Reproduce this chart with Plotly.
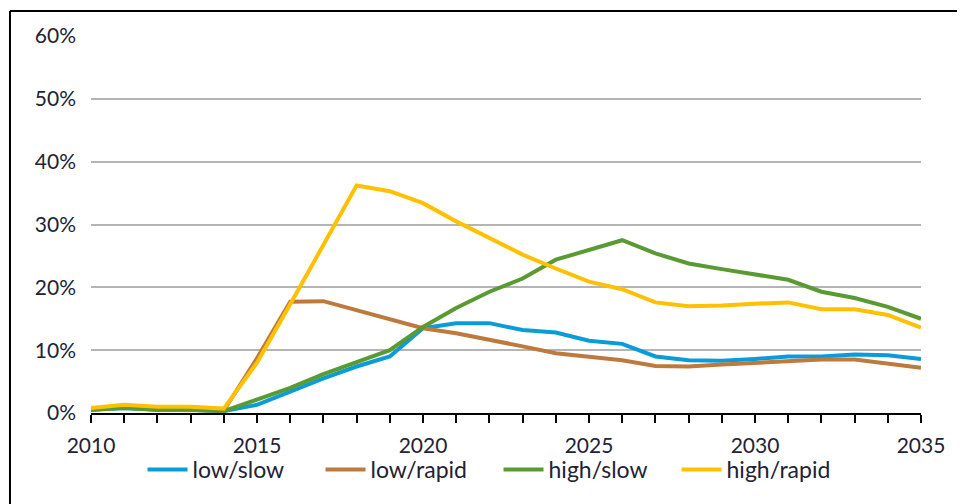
import plotly.graph_objects as go

# ==================================================
# DATA
# ==================================================
years = list(range(2010, 2036))

low_slow = [0.5, 0.8, 0.5, 0.5, 0.3,
            1.3, 3.4, 5.5, 7.4, 9.0,
            13.5, 14.3, 14.3, 13.2, 12.8,
            11.5, 11.0, 9.0, 8.4, 8.3,
            8.6, 9.0, 9.0, 9.3, 9.2,
            8.6]
low_rapid = [0.5, 0.9, 0.5, 0.4, 0.4,
             8.7, 17.7, 17.8, 16.4, 14.9,
             13.5, 12.7, 11.7, 10.6, 9.5,
             8.9, 8.4, 7.5, 7.4, 7.7,
             8.0, 8.2, 8.5, 8.5, 7.9,
             7.2]
high_slow = [0.5, 0.8, 0.5, 0.5, 0.3,
             2.2, 4.0, 6.2, 8.1, 10.0,
             13.7, 16.7, 19.3, 21.4, 24.4,
             26.0, 27.5, 25.4, 23.8, 22.9,
             22.1, 21.2, 19.3, 18.3, 16.9,
             15.0]
high_rapid = [0.8, 1.3, 1.0, 1.0, 0.7,
              8.0, 17.3, 26.6, 36.2, 35.3,
              33.4, 30.5, 27.8, 25.2, 23.0,
              20.9, 19.7, 17.6, 17.0, 17.1,
              17.4, 17.6, 16.5, 16.5, 15.6,
              13.6]

series = [
    ("low/slow", low_slow, "#0A9BD9"),
    ("low/rapid", low_rapid, "#BE7A3C"),
    ("high/slow", high_slow, "#5A9A32"),
    ("high/rapid", high_rapid, "#FFC000"),
]

FONT = "Lato, 'Open Sans', Arial, sans-serif"
TEXT_COLOR = "#222236"

# ==================================================
# FIGURE
# ==================================================
fig = go.Figure()

for name, vals, color in series:
    fig.add_trace(go.Scatter(
        x=years,
        y=vals,
        mode='lines',
        name=name,
        line=dict(width=4, color=color),
    ))

# -------------------
# Outer frame (left + top)
# -------------------
fig.add_shape(type='line', xref='paper', yref='paper',
              x0=-0.0976, x1=-0.0976, y0=-0.4, y1=1.066,
              line=dict(color='black', width=2))
fig.add_shape(type='line', xref='paper', yref='paper',
              x0=-0.0976, x1=1.1, y0=1.066, y1=1.066,
              line=dict(color='black', width=2))

# -------------------
# Layout
# (page body adds an 8px offset, so the figure is sized/margined to suit)
# -------------------
fig.update_layout(
    width=957,
    height=496,
    margin=dict(l=83, r=44, t=28, b=91),
    paper_bgcolor='white',
    plot_bgcolor='white',
    font=dict(family=FONT, size=21, color=TEXT_COLOR),
    showlegend=True,
    legend=dict(
        orientation='h',
        x=0.491, xanchor='center',
        y=-0.150, yanchor='middle',
        font=dict(family=FONT, size=23, color=TEXT_COLOR),
        itemwidth=40,
        entrywidth=123,
        entrywidthmode='pixels',
        tracegroupgap=0,
        bgcolor='rgba(0,0,0,0)',
    ),
    xaxis=dict(
        range=[2010, 2035],
        tick0=2010,
        dtick=5,
        showgrid=False,
        zeroline=False,
        showline=True,
        linecolor='black',
        linewidth=2,
        ticks='outside',
        ticklen=8,
        tickwidth=2,
        tickcolor='black',
        ticklabelstandoff=5,
        minor=dict(dtick=1, ticks='outside', ticklen=8, tickwidth=2,
                   tickcolor='black', showgrid=False),
        tickfont=dict(family=FONT, size=21, color=TEXT_COLOR),
    ),
    yaxis=dict(
        range=[0, 60],
        dtick=10,
        ticksuffix='%',
        showgrid=True,
        gridcolor='#B4B4B4',
        gridwidth=2,
        zeroline=False,
        showline=False,
        ticks='',
        ticklabelstandoff=14,
        tickfont=dict(family=FONT, size=21, color=TEXT_COLOR),
    ),
)

fig.write_html("out.html")
